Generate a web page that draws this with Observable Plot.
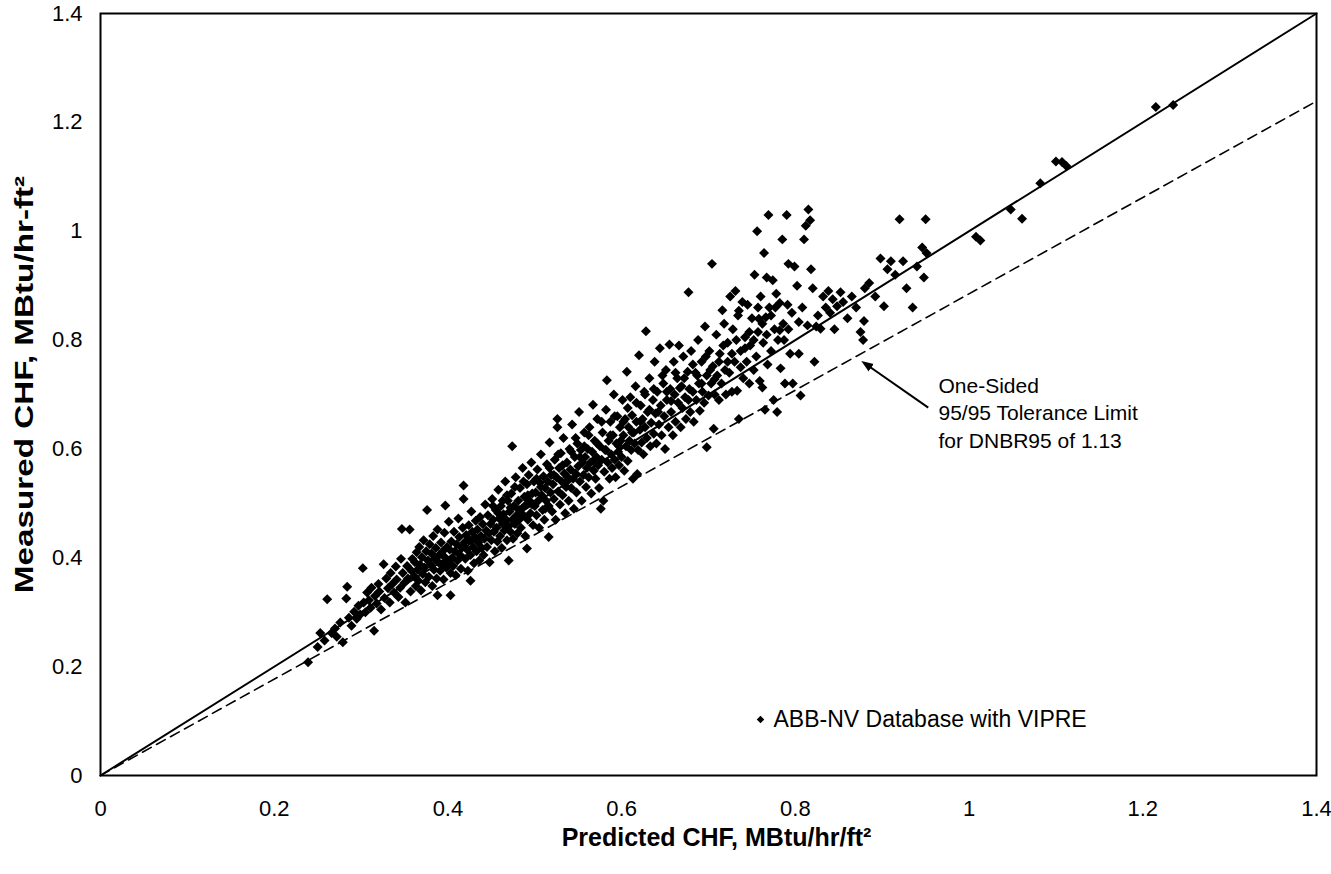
<!DOCTYPE html>
<html><head><meta charset="utf-8">
<script src="https://cdn.jsdelivr.net/npm/d3@7"></script>
<script src="https://cdn.jsdelivr.net/npm/@observablehq/plot@0.6"></script>
<style>html,body{margin:0;padding:0;background:#fff}svg{display:block}</style>
</head><body><div id="chart"></div>
<script>
// ---- axis ticks ----
const xTicks = [0, 0.2, 0.4, 0.6, 0.8, 1, 1.2, 1.4];
const xTickLabels = ["0", "0.2", "0.4", "0.6", "0.8", "1", "1.2", "1.4"];
const yTicks = [0, 0.2, 0.4, 0.6, 0.8, 1, 1.2, 1.4];
const yTickLabels = ["0", "0.2", "0.4", "0.6", "0.8", "1", "1.2", "1.4"];
const xTitle = "Predicted CHF, MBtu/hr/ft²";
const yTitle = "Measured CHF, MBtu/hr-ft²";
const legendLabel = "ABB-NV Database with VIPRE";
const annotationText = "One-Sided\n95/95 Tolerance Limit\nfor DNBR95 of 1.13";
const dnbr95 = 1.13;
const referenceLine = [0, 1.4];
const annotationArrow = [{x1: 0.953, y1: 0.676, x2: 0.881, y2: 0.756}];

// ---- data: [predicted, measured] ----
const lowTail = [[0.239,0.208],[0.250,0.236],[0.253,0.262],[0.258,0.248],[0.261,0.324],[0.266,0.262],[0.270,0.270],[0.272,0.255],[0.276,0.281],[0.279,0.245],[0.283,0.325],[0.284,0.347],[0.286,0.290],[0.289,0.275],[0.292,0.301],[0.295,0.288],[0.297,0.312],[0.299,0.296],
[0.302,0.381],[0.303,0.318],[0.305,0.300],[0.307,0.336],[0.309,0.322],[0.311,0.308],[0.312,0.345],[0.315,0.266],[0.316,0.330],[0.318,0.316],[0.320,0.352],[0.321,0.338],[0.323,0.305],[0.326,0.388],[0.327,0.326],[0.329,0.362],[0.331,0.344],[0.333,0.318],[0.334,0.372],[0.336,0.352],[0.338,0.336],[0.340,0.384],[0.341,0.360],[0.343,0.328],[0.345,0.345],[0.346,0.398],[0.347,0.453],[0.348,0.372],[0.350,0.354],[0.351,0.318],[0.353,0.385],[0.354,0.362],[0.356,0.452],[0.357,0.338],[0.358,0.376],[0.359,0.398]];
const coreBandA = [[0.361,0.366],[0.362,0.392],[0.363,0.348],[0.364,0.410],[0.365,0.378],[0.366,0.358],[0.367,0.420],[0.368,0.387],[0.369,0.340],[0.370,0.401],[0.371,0.370],[0.372,0.432],[0.373,0.382],[0.374,0.355],[0.375,0.412],[0.376,0.488],[0.377,0.395],[0.378,0.365],[0.379,0.425],[0.380,0.388],[0.381,0.408],[0.382,0.348],[0.383,0.440],[0.384,0.378],[0.385,0.398],[0.386,0.418],[0.387,0.362],[0.388,0.331],[0.388,0.452],[0.389,0.392],[0.390,0.405],[0.391,0.376],[0.392,0.428],[0.393,0.388],[0.394,0.412],[0.395,0.360],[0.396,0.446],[0.397,0.496],[0.397,0.400],[0.398,0.382],[0.399,0.420],
[0.400,0.392],[0.401,0.466],[0.402,0.415],[0.403,0.331],[0.403,0.372],[0.404,0.430],[0.405,0.400],[0.406,0.385],[0.407,0.448],[0.408,0.412],[0.409,0.368],[0.410,0.425],[0.411,0.395],[0.412,0.472],[0.413,0.438],[0.414,0.405],[0.415,0.380],[0.416,0.418],[0.417,0.455],[0.418,0.533],[0.418,0.508],[0.419,0.428],[0.420,0.398],[0.421,0.442],[0.422,0.415],[0.423,0.376],[0.424,0.460],[0.425,0.432],[0.426,0.358],[0.426,0.405],[0.427,0.485],[0.428,0.448],[0.429,0.420],[0.430,0.390],[0.431,0.438],[0.432,0.468],[0.433,0.412],[0.434,0.452],[0.435,0.428],[0.436,0.395],[0.437,0.475],[0.438,0.440],[0.439,0.418]];
const coreBandB = [[0.440,0.462],[0.441,0.405],[0.442,0.435],[0.443,0.498],[0.444,0.450],[0.445,0.420],[0.446,0.478],[0.447,0.445],[0.448,0.392],[0.449,0.462],[0.450,0.432],[0.451,0.508],[0.452,0.470],[0.453,0.448],[0.454,0.412],[0.455,0.488],[0.456,0.455],[0.457,0.430],[0.458,0.525],[0.459,0.472],[0.460,0.440],[0.461,0.495],[0.462,0.418],[0.463,0.462],[0.464,0.480],[0.465,0.450],[0.466,0.540],[0.467,0.470],[0.468,0.432],[0.469,0.505],[0.470,0.395],[0.470,0.458],[0.471,0.485],[0.472,0.448],[0.473,0.518],[0.474,0.605],[0.474,0.470],[0.475,0.435],[0.476,0.495],[0.477,0.462],[0.478,0.548],[0.479,0.478],
[0.480,0.445],[0.481,0.505],[0.482,0.470],[0.483,0.528],[0.484,0.455],[0.485,0.490],[0.486,0.565],[0.487,0.478],[0.488,0.512],[0.489,0.440],[0.490,0.498],[0.491,0.417],[0.491,0.535],[0.492,0.470],[0.493,0.552],[0.494,0.505],[0.495,0.482],[0.496,0.575],[0.497,0.518],[0.498,0.460],[0.499,0.540],[0.500,0.495],[0.501,0.520],[0.502,0.478],[0.503,0.562],[0.504,0.505],[0.505,0.455],[0.506,0.538],[0.507,0.590],[0.508,0.515],[0.509,0.488],[0.510,0.550],[0.511,0.470],[0.512,0.528],[0.513,0.505],[0.514,0.572],[0.515,0.540],[0.516,0.438],[0.516,0.495],[0.517,0.612],[0.518,0.520],[0.519,0.552]];
const coreBandC = [[0.520,0.485],[0.521,0.535],[0.522,0.508],[0.523,0.580],[0.524,0.470],[0.525,0.548],[0.526,0.655],[0.526,0.640],[0.527,0.522],[0.528,0.565],[0.529,0.498],[0.530,0.592],[0.531,0.540],[0.532,0.515],[0.533,0.620],[0.534,0.555],[0.535,0.482],[0.536,0.530],[0.537,0.575],[0.538,0.548],[0.539,0.505],[0.540,0.600],[0.541,0.562],[0.542,0.528],[0.543,0.645],[0.544,0.545],[0.545,0.490],[0.546,0.585],[0.547,0.555],[0.548,0.520],[0.549,0.610],[0.550,0.568],[0.551,0.668],[0.552,0.540],[0.553,0.598],[0.554,0.505],[0.555,0.575],[0.556,0.552],[0.557,0.630],[0.558,0.585],[0.559,0.530],
[0.560,0.565],[0.561,0.600],[0.562,0.548],[0.563,0.640],[0.564,0.575],[0.565,0.518],[0.566,0.595],[0.567,0.681],[0.568,0.560],[0.569,0.615],[0.570,0.545],[0.571,0.585],[0.572,0.655],[0.573,0.570],[0.574,0.528],[0.575,0.605],[0.576,0.490],[0.577,0.580],[0.578,0.630],[0.579,0.505],[0.580,0.558],[0.581,0.598],[0.582,0.672],[0.583,0.726],[0.584,0.575],[0.585,0.615],[0.586,0.545],[0.587,0.650],[0.588,0.590],[0.589,0.565],[0.590,0.625],[0.591,0.700],[0.592,0.580],[0.593,0.548],[0.594,0.610],[0.595,0.660],[0.596,0.595],[0.597,0.570],[0.598,0.640],[0.599,0.615]];
const upperBandA = [[0.600,0.585],[0.601,0.690],[0.602,0.625],[0.603,0.560],[0.604,0.655],[0.605,0.605],[0.606,0.742],[0.607,0.578],[0.608,0.640],[0.609,0.615],[0.610,0.695],[0.611,0.598],[0.612,0.662],[0.613,0.545],[0.614,0.630],[0.615,0.610],[0.616,0.715],[0.617,0.650],[0.618,0.554],[0.619,0.598],[0.620,0.772],[0.621,0.635],[0.622,0.680],[0.623,0.612],[0.624,0.655],[0.625,0.590],[0.626,0.705],[0.627,0.640],[0.628,0.816],[0.629,0.620],[0.630,0.668],[0.632,0.730],[0.633,0.605],[0.634,0.648],[0.636,0.690],[0.637,0.628],[0.638,0.760],[0.639,0.665],
[0.640,0.610],[0.641,0.705],[0.643,0.645],[0.644,0.785],[0.645,0.680],[0.646,0.625],[0.648,0.720],[0.649,0.660],[0.650,0.600],[0.651,0.745],[0.652,0.690],[0.654,0.640],[0.655,0.792],[0.656,0.710],[0.657,0.668],[0.659,0.625],[0.660,0.760],[0.661,0.700],[0.662,0.650],[0.664,0.730],[0.665,0.685],[0.666,0.790],[0.668,0.640],[0.669,0.715],[0.670,0.675],[0.671,0.770],[0.673,0.695],[0.674,0.655],[0.676,0.742],[0.677,0.888],[0.678,0.710],[0.679,0.668]];
const upperBandB = [[0.680,0.780],[0.682,0.705],[0.683,0.650],[0.685,0.740],[0.686,0.690],[0.688,0.800],[0.689,0.720],[0.690,0.670],[0.692,0.760],[0.693,0.705],[0.695,0.685],[0.696,0.825],[0.698,0.603],[0.698,0.735],[0.700,0.698],[0.701,0.780],[0.703,0.720],[0.704,0.940],[0.705,0.752],[0.706,0.637],[0.707,0.700],[0.709,0.810],[0.710,0.735],[0.712,0.690],[0.713,0.775],[0.715,0.720],[0.716,0.855],[0.718,0.830],[0.719,0.745],
[0.720,0.700],[0.722,0.795],[0.724,0.740],[0.725,0.880],[0.727,0.705],[0.728,0.820],[0.730,0.760],[0.731,0.890],[0.733,0.707],[0.734,0.845],[0.735,0.854],[0.735,0.655],[0.737,0.780],[0.739,0.870],[0.740,0.730],[0.742,0.805],[0.744,0.760],[0.745,0.865],[0.747,0.720],[0.748,0.790],[0.750,0.840],[0.752,0.745],[0.753,0.920],[0.755,0.770],[0.756,1.000],[0.757,0.815],[0.758,0.839],[0.759,0.725],
[0.760,0.880],[0.762,0.713],[0.763,0.795],[0.764,0.960],[0.765,0.672],[0.766,0.842],[0.767,0.915],[0.768,0.755],[0.769,1.030],[0.770,0.860],[0.772,0.780],[0.774,0.910],[0.775,0.690],[0.776,0.820],[0.778,0.885],[0.779,0.668],[0.780,0.800],[0.782,0.868],[0.783,0.748],[0.785,0.985],[0.786,0.830],[0.788,0.720],[0.790,1.030],[0.791,0.865],[0.792,0.940],[0.794,0.775],[0.796,0.850],[0.797,0.720],[0.799,0.935]];
const denseFill = [[0.452,0.495],[0.458,0.482],[0.463,0.505],[0.468,0.515],[0.472,0.492],[0.477,0.530],[0.482,0.488],[0.487,0.540],[0.492,0.515],[0.497,0.498],[0.502,0.545],[0.507,0.530],[0.512,0.490],[0.517,0.565],[0.522,0.552],[0.527,0.590],[0.532,0.570],[0.537,0.540],[0.542,0.595],[0.547,0.620],[0.552,0.585],[0.557,0.605],[0.562,0.625],[0.567,0.578],[0.572,0.610],[0.577,0.650],[0.582,0.598],[0.587,0.625],[0.592,0.660],[0.597,0.605],[0.602,0.650],[0.607,0.675],[0.612,0.630],[0.617,0.685],[0.622,0.650],[0.627,0.700],[0.632,0.672],[0.637,0.710],[0.642,0.668],[0.647,0.735],[0.652,0.705],[0.657,0.688],[0.662,0.740],[0.667,0.712],[0.672,0.730],[0.677,0.690],[0.682,0.755],[0.687,0.735],[0.692,0.720],[0.697,0.770],[0.702,0.745],[0.707,0.728],[0.712,0.760],[0.717,0.790],[0.722,0.760],[0.727,0.775],[0.732,0.800],[0.737,0.750],[0.742,0.785],[0.747,0.815],[0.752,0.800],[0.757,0.860],[0.762,0.830],[0.767,0.810],[0.772,0.845],[0.777,0.860],[0.782,0.818],[0.787,0.800],[0.792,0.820]];
const highRange = [[0.802,0.900],[0.804,0.833],[0.804,0.775],[0.806,0.698],[0.808,0.860],[0.810,0.985],[0.812,1.010],[0.814,0.827],[0.815,1.040],[0.817,1.020],[0.818,0.930],[0.820,0.895],[0.822,0.760],[0.824,0.825],[0.826,0.845],[0.829,0.821],[0.832,0.880],[0.835,0.860],[0.838,0.890],[0.840,0.850],[0.843,0.875],[0.845,0.820],[0.848,0.862],[0.852,0.888],[0.855,0.870],[0.860,0.840],[0.865,0.880],[0.870,0.860],[0.875,0.815],[0.878,0.800],[0.880,0.895],[0.879,0.835],
[0.885,0.905],[0.892,0.880],[0.898,0.950],[0.902,0.862],[0.906,0.930],[0.910,0.945],[0.915,0.920],[0.920,1.022],[0.924,0.945],[0.928,0.895],[0.935,0.860],[0.940,0.935],[0.946,0.970],[0.950,1.022],[0.951,0.960],[0.948,0.915],
[1.008,0.990],[1.013,0.983],[1.048,1.040],[1.061,1.023],[1.082,1.088],[1.100,1.128],[1.107,1.127],[1.112,1.120],[1.215,1.228],[1.235,1.232]];

const points = [...lowTail, ...coreBandA, ...coreBandB, ...coreBandC, ...upperBandA, ...upperBandB, ...denseFill, ...highRange];

const fmt = (ticks, labels) => d => labels[ticks.indexOf(d)];

const chart = Plot.plot({
  width: 1331,
  height: 874,
  marginLeft: 100,
  marginRight: 15,
  marginTop: 13,
  marginBottom: 99,
  style: {fontFamily: "'Liberation Sans', Arial, Helvetica, sans-serif", fontSize: "22px", color: "black", background: "white"},
  x: {domain: [0, 1.4]},
  y: {domain: [0, 1.4]},
  marks: [
    Plot.axisX({ticks: xTicks, tickFormat: fmt(xTicks, xTickLabels), tickSize: 0, tickPadding: 25, label: null, fontSize: 22}),
    Plot.axisY({ticks: yTicks, tickFormat: fmt(yTicks, yTickLabels), tickSize: 0, tickPadding: 18, label: null, fontSize: 22}),
    Plot.line(referenceLine, {x: d => d, y: d => d, stroke: "black", strokeWidth: 2}),
    Plot.line(referenceLine, {x: d => d, y: d => d / dnbr95, stroke: "black", strokeWidth: 1.6, strokeDasharray: "10,6"}),
    Plot.dot(points, {x: d => d[0], y: d => d[1], symbol: "diamond2", r: 4.5, fill: "black", stroke: "none"}),
    Plot.link(annotationArrow, {x1: "x1", y1: "y1", x2: "x2", y2: "y2", stroke: "black", strokeWidth: 2, markerEnd: "arrow"}),
    Plot.text([annotationText], {frameAnchor: "top-left", dx: 838, dy: 398, text: d => d, textAnchor: "start", lineAnchor: "middle", lineHeight: 1.33, fontSize: 21, fill: "black"}),
    Plot.dot([legendLabel], {frameAnchor: "bottom-left", dx: 660, dy: -56, symbol: "diamond2", r: 3.4, fill: "black"}),
    Plot.text([legendLabel], {frameAnchor: "bottom-left", dx: 673, dy: -56, text: d => d, textAnchor: "start", lineAnchor: "middle", fontSize: 23, fill: "black"}),
    Plot.text([xTitle], {frameAnchor: "bottom", dx: 8, dy: 62, text: d => d, textAnchor: "middle", lineAnchor: "middle", fontWeight: "bold", fontSize: 25, fill: "black"}),
    Plot.text([yTitle], {frameAnchor: "left", dx: -76, dy: -10, text: d => d, rotate: -90, textAnchor: "middle", lineAnchor: "middle", fontWeight: "bold", fontSize: 25, fill: "black", className: "ytitle"}),
    Plot.frame({stroke: "black", strokeWidth: 2})
  ]
});
// filled triangular arrow head
chart.querySelectorAll("marker path").forEach(p => {
  p.setAttribute("d", "M-5,-3.4L4,0L-5,3.4Z");
  p.setAttribute("fill", "black");
  p.setAttribute("stroke", "none");
});
// the reference's y title is set wider along its baseline
const yt = chart.querySelector(".ytitle text");
if (yt && yt.getAttribute("transform")) yt.setAttribute("transform", yt.getAttribute("transform") + " scale(1.33,1)");
document.getElementById("chart").appendChild(chart);
</script>
</body></html>
